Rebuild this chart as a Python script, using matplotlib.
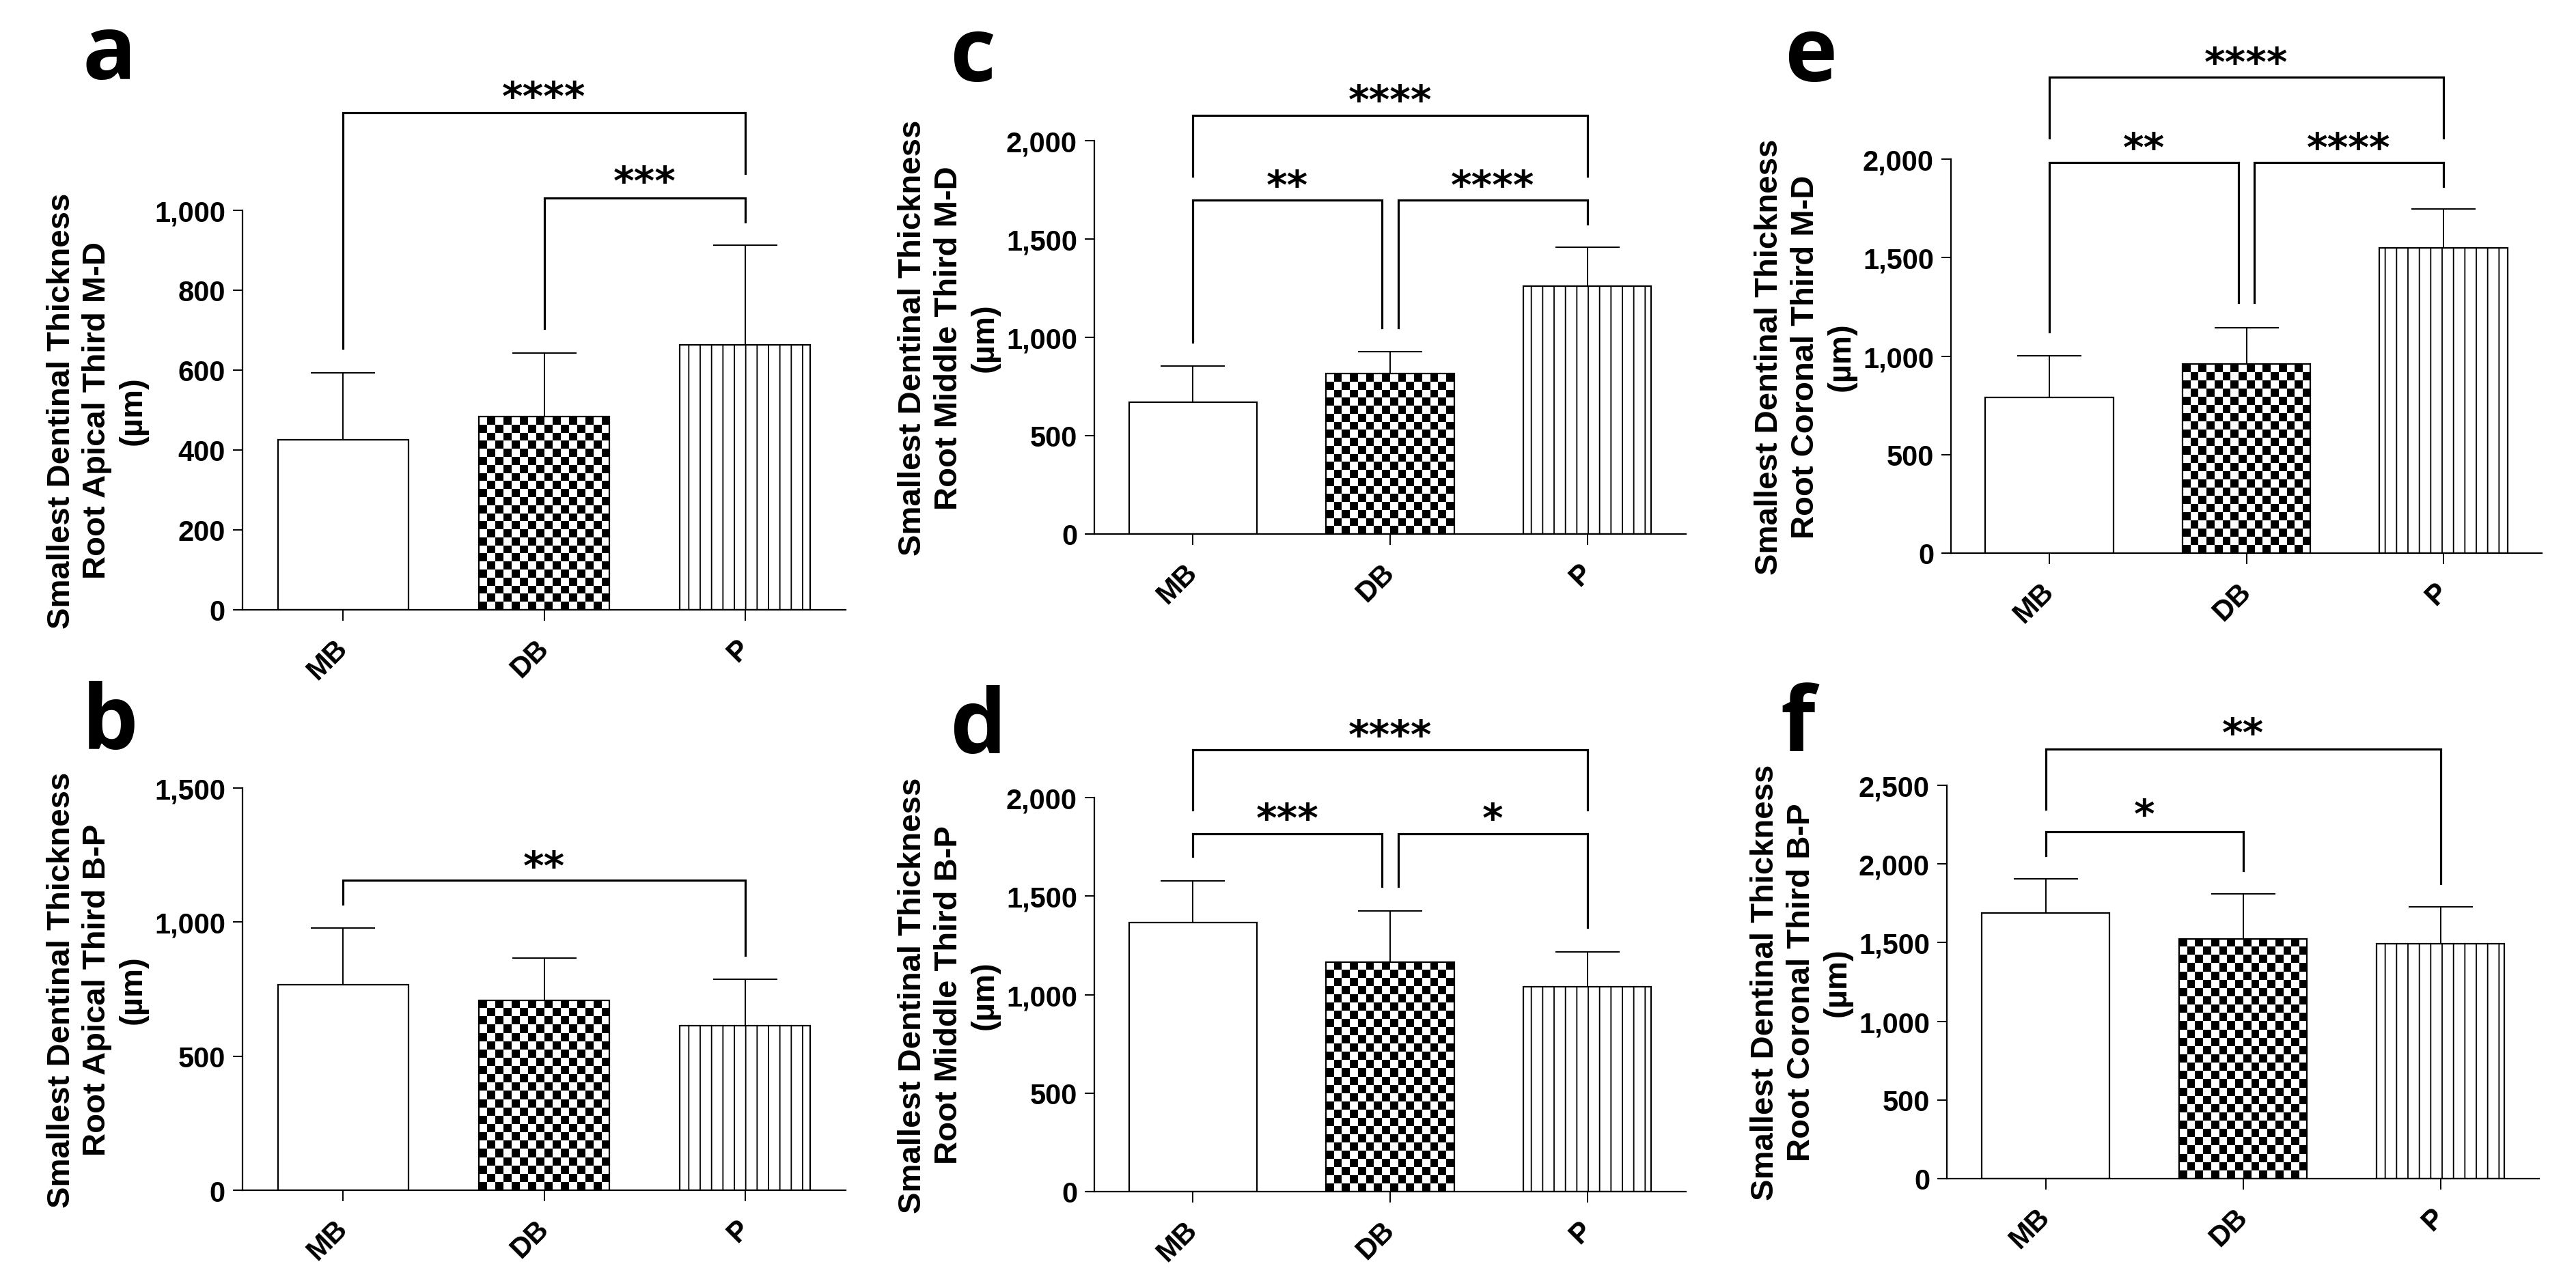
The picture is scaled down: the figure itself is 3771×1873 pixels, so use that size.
import matplotlib
matplotlib.use('Agg')
import matplotlib.pyplot as plt
import numpy as np

W, H = 3771, 1874
DPI = 100

groups = ['MB', 'DB', 'P']

# mean and SD per panel (µm)
mean_a = [425, 483, 663]
sd_a = [168, 159, 250]
mean_b = [767, 708, 614]
sd_b = [211, 157, 172]
mean_c = [671, 815, 1259]
sd_c = [182, 112, 201]
mean_d = [1366, 1166, 1039]
sd_d = [212, 259, 176]
mean_e = [792, 959, 1550]
sd_e = [209, 186, 197]
mean_f = [1689, 1524, 1493]
sd_f = [215, 284, 235]

ylabels = {
    'a': 'Smallest Dentinal Thickness\nRoot Apical Third M-D\n(µm)',
    'b': 'Smallest Dentinal Thickness\nRoot Apical Third B-P\n(µm)',
    'c': 'Smallest Dentinal Thickness\nRoot Middle Third M-D\n(µm)',
    'd': 'Smallest Dentinal Thickness\nRoot Middle Third B-P\n(µm)',
    'e': 'Smallest Dentinal Thickness\nRoot Coronal Third M-D\n(µm)',
    'f': 'Smallest Dentinal Thickness\nRoot Coronal Third B-P\n(µm)',
}
yticks = {
    'a': [0, 200, 400, 600, 800, 1000],
    'b': [0, 500, 1000, 1500],
    'c': [0, 500, 1000, 1500, 2000],
    'd': [0, 500, 1000, 1500, 2000],
    'e': [0, 500, 1000, 1500, 2000],
    'f': [0, 500, 1000, 1500, 2000, 2500],
}
# significance brackets: (x left, x right, bar level, left leg end, right leg end, label, label level)
brackets = {
    'a': [(0, 2, 1245, 655, 1092, '****', 1313),
          (1, 2, 1030, 704, 971, '***', 1100)],
    'b': [(0, 2, 1157, 1068, 876, '**', 1251)],
    'c': [(0, 2, 2127, 1820, 1820, '****', 2265),
          (0, 0.96, 1699, 974, 1048, '**', 1831),
          (1.04, 2, 1699, 1048, 1577, '****', 1831)],
    'd': [(0, 2, 2242, 1936, 1936, '****', 2375),
          (0, 0.96, 1818, 1701, 1548, '***', 1951),
          (1.04, 2, 1818, 1548, 1340, '*', 1951)],
    'e': [(0, 2, 2416, 2106, 2106, '****', 2549),
          (0, 0.96, 1983, 1124, 1271, '**', 2116),
          (1.04, 2, 1983, 1271, 1863, '****', 2116)],
    'f': [(0, 2, 2731, 2346, 1877, '**', 2903),
          (0, 1, 2206, 2055, 1957, '*', 2386)],
}
data = {'a': (mean_a, sd_a), 'b': (mean_b, sd_b), 'c': (mean_c, sd_c),
        'd': (mean_d, sd_d), 'e': (mean_e, sd_e), 'f': (mean_f, sd_f)}

# axes boxes in pixels: left (x-axis start), y-spine x, right, top, bottom
boxes = {
    'a': (343, 355, 1238, 309, 894),
    'b': (343, 355, 1238, 1155, 1744),
    'c': (1590, 1602, 2468, 207, 783),
    'd': (1590, 1602, 2468, 1169, 1746),
    'e': (2844, 2856, 3721, 234, 811),
    'f': (2838, 2850, 3717, 1151, 1727),
}
letter_pos = {'a': (120, 116), 'b': (120, 1097), 'c': (1390, 119),
              'd': (1390, 1103), 'e': (2612, 119), 'f': (2606, 1100)}

plt.rcParams['font.family'] = ['Liberation Sans', 'DejaVu Sans']
plt.rcParams['hatch.linewidth'] = 1.3
plt.rcParams['axes.linewidth'] = 1.6

fig = plt.figure(figsize=(W / DPI, H / DPI), dpi=DPI)
fig.patch.set_facecolor('white')


def checker(ax, bar, px=12):
    x0, y0 = bar.get_x(), bar.get_y()
    w, h = bar.get_width(), bar.get_height()
    p0 = ax.transData.transform((x0, y0))
    p1 = ax.transData.transform((x0 + w, y0 + h))
    nx = max(1, int(round((p1[0] - p0[0]) / px)))
    ny = max(1, int(round((p1[1] - p0[1]) / px)))
    arr = np.add.outer(np.arange(ny), np.arange(nx)) % 2
    ax.imshow(arr, cmap='gray', extent=(x0, x0 + w, y0, y0 + h), origin='lower',
              aspect='auto', interpolation='nearest', zorder=1.5)


for key in 'abcdef':
    xl, xs, xr, yt, yb = boxes[key]
    ax = fig.add_axes([xl / W, 1 - yb / H, (xr - xl) / W, (yb - yt) / H])
    means, sds = data[key]
    x = np.arange(len(groups))
    unit = (xr - xs) / 3.0
    ax.set_xlim(-0.5 - (xs - xl) / unit, 2.5)
    ax.set_ylim(0, yticks[key][-1])
    ax.spines['left'].set_position(('data', -0.5))
    for s in ['top', 'right']:
        ax.spines[s].set_visible(False)

    bars = ax.bar(x, means, width=0.65, color=['white', 'none', 'white'],
                  edgecolor='black', linewidth=1.6, zorder=2)
    bars[2].set_hatch('|')
    checker(ax, bars[1])
    ax.errorbar(x, means, yerr=[np.zeros(3), sds], fmt='none', ecolor='black',
                elinewidth=1.4, capsize=34, capthick=1.4, zorder=3)

    ax.set_yticks(yticks[key])
    ax.set_yticklabels([f'{v:,}' for v in yticks[key]], fontsize=30, fontweight='bold')
    ax.set_xticks(x)
    ax.set_xticklabels(groups, fontsize=30, fontweight='bold', rotation=45,
                       ha='right', va='center', rotation_mode='anchor')
    ax.tick_params(axis='y', length=10, width=1.4, pad=8)
    ax.tick_params(axis='x', length=11.5, width=1.4, pad=24)

    ax.annotate(ylabels[key], xy=(-0.5, 0.5), xycoords=('data', 'axes fraction'),
                xytext=(-213 * 0.72, 0), textcoords='offset points', rotation=90,
                ha='center', va='center', fontsize=34, fontweight='bold',
                linespacing=1.25, annotation_clip=False)

    for x1, x2, yb_, l1, l2, lab, ly in brackets[key]:
        ax.plot([x1, x1, x2, x2], [l1, yb_, yb_, l2], color='black', lw=2.3,
                clip_on=False, solid_joinstyle='miter', zorder=4)
        ax.annotate(lab, xy=((x1 + x2) / 2, ly), xytext=(0, -0.6 * 42),
                    textcoords='offset points', ha='center', va='baseline',
                    fontsize=42, fontweight='bold', family='DejaVu Sans',
                    annotation_clip=False)

    lx, ly = letter_pos[key]
    fig.text(lx / W, 1 - ly / H, key, fontsize=94, fontweight='bold',
             family=['Open Sans', 'DejaVu Sans'], ha='left', va='baseline')

fig.savefig('out.png', dpi=DPI, facecolor='white')
